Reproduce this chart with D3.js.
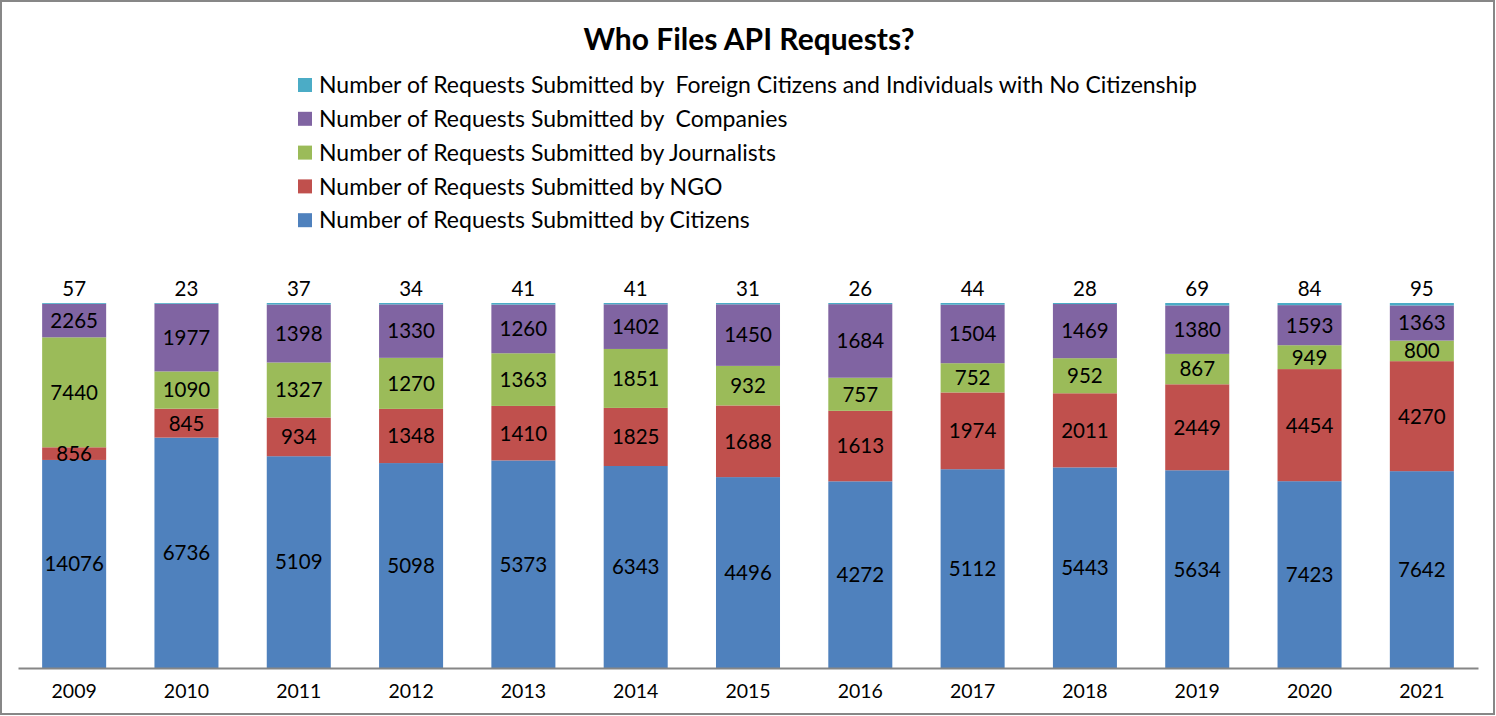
<!DOCTYPE html>
<html>
<head>
<meta charset="utf-8">
<script src="https://cdn.jsdelivr.net/npm/d3@7"></script>
<style>
  html, body { margin: 0; padding: 0; background: #fff; }
  svg { display: block; }
  text { font-family: Lato, "Open Sans", sans-serif; fill: #000; }
</style>
</head>
<body>
<svg id="chart" width="1496" height="716"></svg>
<script>
const years = ["2009","2010","2011","2012","2013","2014","2015","2016","2017","2018","2019","2020","2021"];
const citizens    = [14076, 6736, 5109, 5098, 5373, 6343, 4496, 4272, 5112, 5443, 5634, 7423, 7642];
const ngo         = [856, 845, 934, 1348, 1410, 1825, 1688, 1613, 1974, 2011, 2449, 4454, 4270];
const journalists = [7440, 1090, 1327, 1270, 1363, 1851, 932, 757, 752, 952, 867, 949, 800];
const companies   = [2265, 1977, 1398, 1330, 1260, 1402, 1450, 1684, 1504, 1469, 1380, 1593, 1363];
const foreign     = [57, 23, 37, 34, 41, 41, 31, 26, 44, 28, 69, 84, 95];

const seriesNames = [
  "Number of Requests Submitted by Citizens",
  "Number of Requests Submitted by NGO",
  "Number of Requests Submitted by Journalists",
  "Number of Requests Submitted by  Companies",
  "Number of Requests Submitted by  Foreign Citizens and Individuals with No Citizenship"
];
const seriesKeys = ["citizens","ngo","journalists","companies","foreign"];
const seriesValues = [citizens, ngo, journalists, companies, foreign];
const colors = ["#4F81BD","#C0504D","#9BBB59","#8064A2","#4BACC6"];

const rows = years.map((y, i) => {
  const r = { year: y };
  seriesKeys.forEach((k, j) => r[k] = seriesValues[j][i]);
  return r;
});

const stacked = d3.stack().keys(seriesKeys).offset(d3.stackOffsetExpand)(rows);

const svg = d3.select("#chart");

// outer border
svg.append("rect")
  .attr("x", 1).attr("y", 1).attr("width", 1493).attr("height", 713)
  .attr("fill", "#fff").attr("stroke", "#878787").attr("stroke-width", 2);

const plot = { left: 18, right: 1478, top: 303, bottom: 668 };

const x = d3.scaleBand().domain(years).range([plot.left, plot.right]).paddingInner(0.43).paddingOuter(0.215);
const y = d3.scaleLinear().domain([0, 1]).range([plot.bottom, plot.top]);

// title
svg.append("text")
  .attr("x", 749).attr("y", 50)
  .attr("text-anchor", "middle")
  .style("font-size", "30px").style("font-weight", "bold")
  .text("Who Files API Requests?");

// bars
const g = svg.append("g");
stacked.forEach((layer, j) => {
  g.selectAll(null).data(layer).enter().append("rect")
    .attr("x", d => x(d.data.year))
    .attr("width", x.bandwidth())
    .attr("y", d => y(d[1]))
    .attr("height", d => Math.max(0, y(d[0]) - y(d[1])))
    .attr("fill", colors[j]);
});

// axis
const xAxis = d3.axisBottom(x).tickSize(0).tickPadding(16);
const ax = svg.append("g").attr("transform", `translate(0,${plot.bottom})`).call(xAxis);
ax.select(".domain").attr("stroke", "#868686").attr("stroke-width", 2);
ax.selectAll("text").style("font-size", "19.5px").style("font-family", "Lato, sans-serif").attr("fill", "#000");

// data labels
stacked.forEach((layer, j) => {
  const isTop = seriesKeys[j] === "foreign";
  svg.selectAll(null).data(layer).enter().append("text")
    .attr("x", d => x(d.data.year) + x.bandwidth() / 2)
    .attr("y", d => isTop ? y(d[1]) - 14 : (y(d[0]) + y(d[1])) / 2)
    .attr("dy", "0.36em")
    .attr("text-anchor", "middle")
    .style("font-size", "20.5px")
    .text(d => d.data[seriesKeys[j]]);
});

// legend
const legendOrder = [4, 3, 2, 1, 0];
const lg = svg.append("g");
legendOrder.forEach((j, i) => {
  const cy = 85 + i * 33.8;
  lg.append("rect").attr("x", 298).attr("y", cy - 7).attr("width", 14).attr("height", 14).attr("fill", colors[j]);
  lg.append("text").attr("x", 319).attr("y", cy).attr("dy", "0.36em")
    .style("font-size", "23px").style("white-space", "pre").text(seriesNames[j]);
});
</script>
</body>
</html>
